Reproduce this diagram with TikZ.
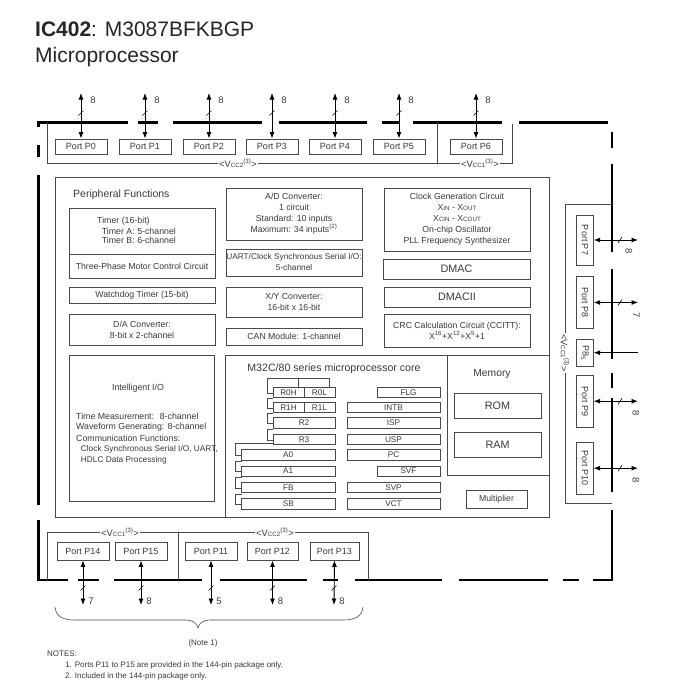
\documentclass[tikz,border=0pt]{standalone}
\usepackage{fontspec}
\setmainfont{Liberation Sans}
\usetikzlibrary{arrows.meta}
\definecolor{ln}{HTML}{4A4A4A}
\definecolor{tx}{HTML}{3A3A3A}
\newcommand\fsz[1]{\fontsize{#1}{11}\selectfont}
\newcommand\sml[1]{{\fontsize{6.2}{7}\selectfont #1}}
\newcommand\vcc[1]{<V\sml{CC#1}\textsuperscript{\sml{(3)}}>}
\newcommand\bxx[7][]{\node[bx,#1,minimum width={(#5)-(#3)},minimum height={(#6)-(#4)}] (#2) at ({((#3)+(#5))/2},{((#4)+(#6))/2}) {#7};}
\begin{document}
\begin{tikzpicture}[x=1pt,y=-1pt,
 bx/.style={draw=ln,line width=0.8pt,fill=white,inner sep=0pt,text=tx,font=\fsz{8.7},align=center},
 rg/.style={bx,line width=0.7pt,font=\fsz{8.2}},
 pt/.style={bx,font=\fsz{9}},
 bus/.style={line width=2.2pt,black},
 thn/.style={line width=0.8pt,ln},
 bi/.style={{Latex[length=6.5pt,width=5pt]}-{Latex[length=6.5pt,width=5pt]},line width=0.9pt,black},
 lab/.style={font=\fsz{9.5},text=tx,inner sep=0pt},
 tt/.style={text=tx,inner sep=0pt,font=\fsz{8.8}}]
\useasboundingbox[fill=white] (0,0) rectangle (689,681);

% title
\node[anchor=base west,inner sep=0pt,font=\fontsize{21}{24}\selectfont,text=black!85] (title) at (35,36) {\textbf{IC402}: M3087BFKBGP};
\node[anchor=base west,inner sep=0pt,font=\fontsize{21}{24}\selectfont,text=black!85] (sub) at (35,62) {Microprocessor};

% outer dashed frame
\draw[bus] (38.5,127) -- (38.5,122.5) -- (128,122.5)
  (138,122.5) -- (158,122.5) (173,122.5) -- (262,122.5) (279,122.5) -- (367,122.5)
  (382,122.5) -- (400,122.5) (413,122.5) -- (502,122.5) (519,122.5) -- (608,122.5);
\draw[bus] (612,132) -- (612,148) (612,164) -- (612,252) (612,269) -- (612,359)
  (612,373) -- (612,388) (612,398) -- (612,492);
\draw[bus] (612,510) -- (612,580) -- (593,580) (579,580) -- (563,580) (548,580) -- (459,580)
  (442,580) -- (355,580) (338,580) -- (323,580) (307,580) -- (220,580) (202,580) -- (114,580)
  (99,580) -- (78,580);
\draw[bus] (68,580) -- (38.5,580) -- (38.5,520);
\draw[bus] (38.5,145) -- (38.5,157) (38.5,175) -- (38.5,505);

% supply brackets
\draw[thn] (47,122.5) -- (47,163) -- (512.7,163) -- (512.7,123.5);
\draw[thn] (437,122.5) -- (437,163);
\node[tt,fill=white,inner sep=1.5pt,font=\fsz{9.3}] (vt2) at (238,163) {\vcc{2}};
\node[tt,fill=white,inner sep=1.5pt,font=\fsz{9.3}] (vt1) at (480,163) {\vcc{1}};
\draw[thn] (47,580) -- (47,532) -- (368,532) -- (368,580);
\draw[thn] (178,532) -- (178,580);
\node[tt,fill=white,inner sep=1.5pt,font=\fsz{9.3}] (vb1) at (120,532) {\vcc{1}};
\node[tt,fill=white,inner sep=1.5pt,font=\fsz{9.3}] (vb2) at (275,532) {\vcc{2}};
\draw[thn] (612,204) -- (565,204) -- (565,503) -- (612,503);
\node[tt,fill=white,inner sep=1.5pt,font=\fsz{9.3},rotate=-90] (vr1) at (565,353) {\vcc{1}};

% top ports
\foreach \n/\a/\b in {0/55/107,1/119/171,2/183/235,3/246/298,4/309/361,5/373/425,6/450/502}{
  \bxx[pt]{p\n}{\a}{139}{\b}{154}{Port P\n}
  \coordinate (t\n) at ({(\a+\b)/2},93);
  \draw[bi] (t\n) -- (p\n.north);
  \draw[line width=0.6pt] ({(\a+\b)/2-2.5},115.5) -- ++(5,-5);
  \node[lab] (lt\n) at ({(\a+\b)/2+12},100) {8};
}

% right ports
\node[pt,rotate=-90,minimum width=50,minimum height=16.6] (p7) at (585,240) {Port P7};
\node[pt,rotate=-90,minimum width=51.6,minimum height=16.6] (p8) at (585,302.5) {Port P8};
\node[pt,rotate=-90,minimum width=26.7,minimum height=16.6] (p8s) at (585,352.7) {P8\raisebox{-0.35ex}{\sml{5}}};
\node[pt,rotate=-90,minimum width=52.3,minimum height=16.6] (p9) at (585,401.2) {Port P9};
\node[pt,rotate=-90,minimum width=51.7,minimum height=16.6] (p10) at (585,468.2) {Port P10};
\foreach \n/\y in {7/240,8/302.5,9/401.2,10/468.2}{
  \coordinate (e\n) at (638,\y);
  \draw[bi] (p\n.north) -- (e\n);
  \draw[line width=0.6pt] (618,\y+3) -- ++(4,-6);
}
\coordinate (e8s) at (638,352.7);
\draw[{Latex[length=6.5pt,width=5pt]}-,line width=0.9pt] (p8s.north) -- (e8s);
\node[lab,rotate=-90] (lr7) at (629,251) {8};
\node[lab,rotate=-90] (lr8) at (636.5,315) {7};
\node[lab,rotate=-90] (lr9) at (636,413) {8};
\node[lab,rotate=-90] (lr10) at (636,480) {8};

% bottom ports
\foreach \n/\a/\b/\x/\l in {14/57/109/83/7,15/115/167/141/8,11/185/237/211/5,12/247/298/272.5/8,13/310/359/334/8}{
  \bxx[pt]{p\n}{\a}{542}{\b}{560}{Port P\n}
  \coordinate (b\n) at (\x,605);
  \draw[bi] (p\n.south) -- (b\n);
  \draw[line width=0.6pt] (\x-2.5,590.5) -- ++(5,-5);
  \node[lab] (lb\n) at (\x+8,601) {\l};
}

% brace and notes
\draw[line width=0.6pt,ln] (55,607) .. controls (56,616) and (62,620) .. (75,620) -- (185,620)
  .. controls (193,620) and (197,623) .. (198,628) .. controls (199,623) and (203,620) .. (211,620)
  -- (343,620) .. controls (356,620) and (362,616) .. (363,607);
\node[tt,font=\fsz{8}] (n1) at (203,643) {(Note 1)};
\node[tt,font=\fsz{8},anchor=west] (nt) at (47,654) {NOTES:};
\node[tt,font=\fsz{8},anchor=west] (na) at (65,665) {1. Ports P11 to P15 are provided in the 144-pin package only.};
\node[tt,font=\fsz{8},anchor=west] (nb) at (65,676) {2. Included in the 144-pin package only.};

% main block
\bxx{pf}{55}{177}{549}{517}{}
\bxx{core}{225}{355}{549}{517}{}
\bxx{mem}{447.7}{355}{549}{475}{}
\node[tt,anchor=base west,font=\fsz{10.5}] (pft) at (73,197) {Peripheral Functions};

\bxx{tmr}{69}{208}{215}{254}{}
\node[tt,anchor=west] (tm1) at (97,221.5) {Timer (16-bit)};
\node[tt,anchor=west] (tm2) at (101.7,231) {Timer A: 5-channel};
\node[tt,anchor=west] (tm3) at (101.7,240.5) {Timer B: 6-channel};
\bxx{tpm}{69}{254}{215}{278}{Three-Phase Motor Control Circuit}
\bxx{wdt}{69}{287}{215}{303}{Watchdog Timer (15-bit)}
\bxx{dac}{69}{314}{215}{345}{D/A Converter:\\8-bit x 2-channel}

\bxx{adc}{226}{188}{362}{240}{A/D Converter:\\1 circuit\\Standard: 10 inputs\\Maximum: 34 inputs\textsuperscript{\sml{(2)}}}
\bxx[font=\fsz{8.3}]{uart}{226}{249}{362}{276}{UART/Clock Synchronous Serial I/O:\\5-channel}
\bxx{xyc}{226}{287}{362}{317}{X/Y Converter:\\16-bit x 16-bit}
\bxx{can}{226}{328}{362}{345}{CAN Module: 1-channel}

\bxx{clk}{384}{188}{530}{251}{Clock Generation Circuit\\X\sml{IN} - X\sml{OUT}\\X\sml{CIN} - X\sml{COUT}\\On-chip Oscillator\\PLL Frequency Synthesizer}
\bxx[font=\fsz{10.8}]{dmac}{383}{259}{530}{279}{DMAC}
\bxx[font=\fsz{10.8}]{dmac2}{384}{287}{530}{307}{DMACII}
\bxx{crc}{384}{314}{530}{347}{CRC Calculation Circuit (CCITT):\\X\textsuperscript{16}+X\textsuperscript{12}+X\textsuperscript{5}+1}

\bxx{iio}{69}{355}{214}{501}{}
\node[tt] (io0) at (138,388) {Intelligent I/O};
\node[tt,anchor=west] (io1) at (76,416) {Time Measurement:~ 8-channel};
\node[tt,anchor=west] (io2) at (76,427) {Waveform Generating: 8-channel};
\node[tt,anchor=west] (io3) at (76,438) {Communication Functions:};
\node[tt,anchor=west,font=\fsz{8.3}] (io4) at (80.7,449) {Clock Synchronous Serial I/O, UART,};
\node[tt,anchor=west,font=\fsz{8.3}] (io5) at (80.7,460) {HDLC Data Processing};

\node[tt,font=\fsz{10.6}] (coret) at (334,369) {M32C/80 series microprocessor core};
\node[tt,font=\fsz{10.3}] (memt) at (492,374.5) {Memory};
\bxx[font=\fsz{10.8}]{rom}{454}{393}{541}{418}{ROM}
\bxx[font=\fsz{10.8}]{ram}{454}{432}{541}{457}{RAM}
\bxx{mul}{466}{490}{527}{508}{Multiplier}

% register bank brackets
\draw[line width=0.7pt,ln] (273,393) -- (267,393) -- (267,378.3) -- (329,378.3) -- (329,387.3)
  (298,378.3) -- (298,387.3);
\foreach \t/\bb in {402.7/412.7,417.5/428,434/444.5}{
  \draw[line width=0.7pt,ln] (273,\t-4.5) -- (267,\t-4.5) -- (267,\bb-4.5) -- (273,\bb-4.5);
}
\draw[line width=0.7pt,ln] (273,443.8) -- (235.5,443.8) -- (235.5,455) -- (241.5,455);
\foreach \t/\bb in {466/476,482/492.5,498.5/509}{
  \draw[line width=0.7pt,ln] (241.5,\t-4.5) -- (235.5,\t-4.5) -- (235.5,\bb-4.5) -- (241.5,\bb-4.5);
}
% registers
\bxx[rg]{r0h}{273}{387.3}{304}{397.5}{R0H}
\bxx[rg]{r0l}{304}{387.3}{335}{397.5}{R0L}
\bxx[rg]{r1h}{273}{402.7}{304}{412.7}{R1H}
\bxx[rg]{r1l}{304}{402.7}{335}{412.7}{R1L}
\bxx[rg]{r2}{273}{417.5}{335}{428}{R2}
\bxx[rg]{r3}{273}{434}{335}{444.5}{R3}
\bxx[rg]{a0}{241.5}{449.5}{335}{460}{A0}
\bxx[rg]{a1}{241.5}{466}{335}{476}{A1}
\bxx[rg]{fb}{241.5}{482}{335}{492.5}{FB}
\bxx[rg]{sb}{241.5}{498.5}{335}{509}{SB}
\bxx[rg]{flg}{377}{387.3}{440}{397.5}{FLG}
\bxx[rg]{intb}{347}{402.7}{440}{412.7}{INTB}
\bxx[rg]{isp}{347}{417.5}{440}{428}{ISP}
\bxx[rg]{usp}{347}{434}{440}{444.5}{USP}
\bxx[rg]{pc}{347}{449.5}{440}{460}{PC}
\bxx[rg]{svf}{377}{466}{440}{476}{SVF}
\bxx[rg]{svp}{347}{482}{440}{492.5}{SVP}
\bxx[rg]{vct}{347}{498.5}{440}{509}{VCT}
\end{tikzpicture}
\end{document}
